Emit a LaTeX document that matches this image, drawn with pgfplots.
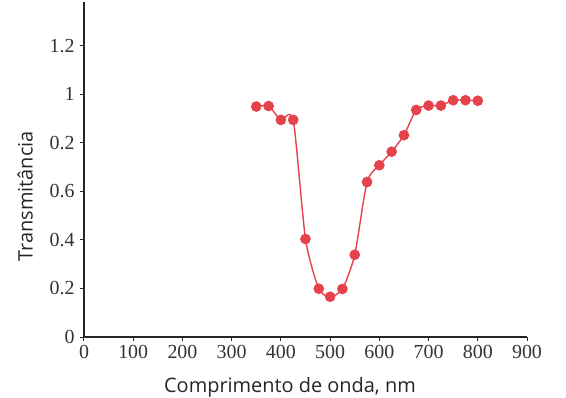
\documentclass[border=0pt]{standalone}
\usepackage{pgfplots}
\pgfplotsset{compat=1.18}
\usetikzlibrary{calc}
\usepackage{fontspec}
\setmainfont{Liberation Serif}
\newfontfamily\labfont{Open Sans}
\definecolor{cred}{RGB}{230,66,76}
\begin{document}
\begin{tikzpicture}
\begin{axis}[
  scale only axis,
  width=443bp, height=335bp,
  xmin=0, xmax=900, ymin=0, ymax=1.381,
  axis lines=left,
  axis line style={-, line width=1.3bp, black!85},
  tick style={line width=1bp, black!85},
  tick align=outside,
  major tick length=4bp,
  xtick={0,100,...,900},
  ytick={0,0.2,0.4,0.6,0.8,1,1.2},
  yticklabels={0,0.2,0.4,0.6,0.2,1,1.2},
  /pgf/number format/assume math mode=true,
  ticklabel style={font=\fontsize{20}{22}\selectfont, text=black!80},
  xticklabel style={yshift=-1bp},
  yticklabel style={xshift=-2bp},
  xlabel={Comprimento de onda, nm},
  ylabel={Transmitância},
  label style={font=\labfont\fontsize{20}{23}\selectfont, text=black!85},
  xlabel style={at={($(axis description cs:0.465,0)+(0,-50bp)$)}, anchor=center},
  ylabel style={at={($(axis description cs:0,0.42)+(-59bp,0)$)}, anchor=center},
  clip=false,
]
\addplot[color=cred, line width=1.4bp, smooth, tension=0.4,
  mark=*, mark size=4.6bp, mark options={fill=cred, draw=cred}] coordinates {
(350,0.950) (375,0.952) (400,0.895) (425,0.895) (450,0.404) (477,0.199)
(500,0.166) (525,0.198) (550,0.339) (575,0.639) (600,0.708) (625,0.764)
(650,0.832) (675,0.936) (700,0.954) (725,0.954) (750,0.976) (775,0.976)
(800,0.974)
};
\end{axis}
\pgfresetboundingbox
\path (-84bp,-61bp) rectangle (482bp,337bp);
\end{tikzpicture}
\end{document}
